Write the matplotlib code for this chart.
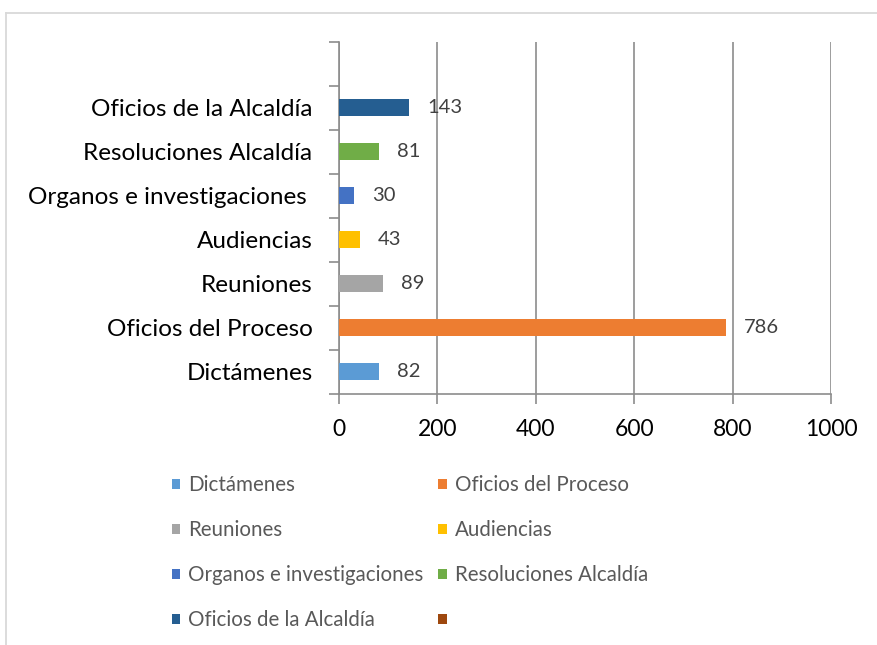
import matplotlib
matplotlib.use("Agg")
import matplotlib.pyplot as plt
from matplotlib.patches import Patch
from matplotlib.lines import Line2D

plt.rcParams['font.family'] = ['Lato', 'DejaVu Sans']

categories = ["Dictámenes", "Oficios del Proceso", "Reuniones", "Audiencias",
              "Organos e investigaciones ", "Resoluciones Alcaldía",
              "Oficios de la Alcaldía", ""]
values = [82, 786, 89, 43, 30, 81, 143, None]
colors = ["#5B9BD5", "#ED7D31", "#A5A5A5", "#FFC000", "#4472C4", "#70AD47",
          "#255E91", "#9E480E"]
legend_labels = ["Dictámenes", "Oficios del Proceso", "Reuniones", "Audiencias",
                 "Organos e investigaciones", "Resoluciones Alcaldía",
                 "Oficios de la Alcaldía", ""]
xticks = [0, 200, 400, 600, 800, 1000]

W, H = 877, 645
fig = plt.figure(figsize=(W / 100, H / 100), dpi=100)
ax = fig.add_axes([339 / W, 1 - 393.5 / H, (831 - 339) / W, (393.5 - 41.7) / H])

pos = list(range(len(categories)))
for i, (v, c) in enumerate(zip(values, colors)):
    if v is None:
        continue
    ax.barh(i, v, height=0.40, color=c, zorder=3)
    ax.annotate(str(v), xy=(v, i), xytext=(13, 0), textcoords="offset points",
                ha="left", va="center", fontsize=14.5, color="#404040", zorder=4)

ax.set_xlim(0, 1000)
ax.set_ylim(-0.5, len(categories) - 0.5)
ax.set_xticks(xticks)
ax.set_xticklabels([str(t) for t in xticks], fontsize=16.5, color="black")
ax.set_yticks([p - 0.5 for p in pos] + [len(categories) - 0.5])
ax.set_yticklabels([])
ax.set_yticks(pos, minor=True)
ax.set_yticklabels(categories, minor=True, fontsize=17.5, color="black")
ax.tick_params(axis="y", which="major", length=7, color="#8c8c8c", width=1.2)
ax.tick_params(axis="y", which="minor", length=0, pad=19)
ax.tick_params(axis="x", length=7, color="#8c8c8c", width=1.2, pad=11)
ax.xaxis.grid(True, color="#8c8c8c", linewidth=1.2, zorder=0)
for s in ["top", "right"]:
    ax.spines[s].set_visible(False)
for s in ["left", "bottom"]:
    ax.spines[s].set_color("#8c8c8c")
    ax.spines[s].set_linewidth(1.2)

# legend filled row by row (two columns)
order = [0, 2, 4, 6, 1, 3, 5, 7]
handles = [Patch(facecolor=colors[k], edgecolor="none") for k in order]
labels = [legend_labels[k] for k in order]
leg = fig.legend(handles, labels, ncol=2, loc="upper left",
                 bbox_to_anchor=(172 / W, 1 - 475 / H), frameon=False,
                 borderaxespad=0, borderpad=0,
                 fontsize=14.8, labelcolor="#595959", handlelength=0.39,
                 handleheight=0.39, handletextpad=0.4, labelspacing=1.22,
                 columnspacing=0.73)

fig.add_artist(Line2D([6 / W, 1], [1 - 12.5 / H, 1 - 12.5 / H], color="#d9d9d9",
                      linewidth=1.3, transform=fig.transFigure))
fig.add_artist(Line2D([6 / W, 6 / W], [0, 1 - 12.5 / H], color="#d9d9d9",
                      linewidth=1.3, transform=fig.transFigure))

fig.savefig("out.png", dpi=100)
